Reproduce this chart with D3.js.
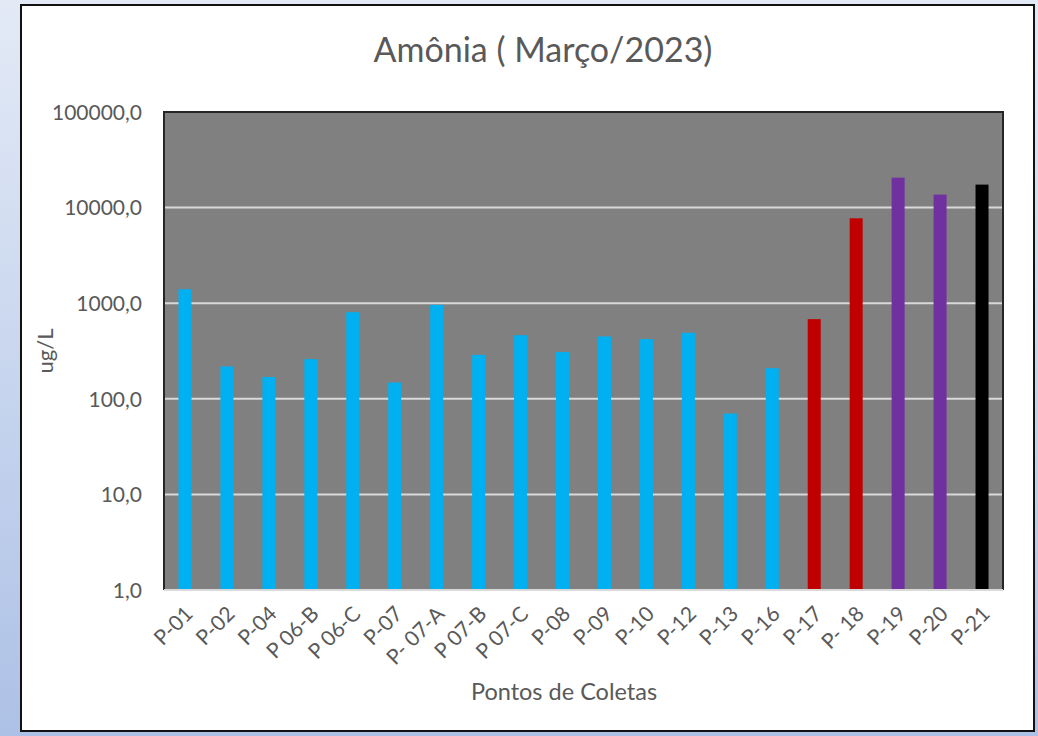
<!DOCTYPE html>
<html>
<head>
<meta charset="utf-8">
<script src="https://cdn.jsdelivr.net/npm/d3@7"></script>
<style>
  html, body { margin: 0; padding: 0; }
  body { width: 1038px; height: 736px; overflow: hidden; }
  text { font-family: Lato, "Open Sans", sans-serif; white-space: pre; }
</style>
</head>
<body>
<svg id="chart" width="1038" height="736"></svg>
<script>
// ---- data ----
const categories = ["P-01","P-02","P-04","P 06-B","P 06-C","P-07","P- 07-A","P 07-B","P 07-C","P-08","P-09","P-10","P-12","P-13","P-16","P-17","P- 18","P-19","P-20","P-21"];
const values = [1400, 218, 169, 260, 805, 148, 960, 288, 463, 308, 449, 421, 490, 70, 209, 681, 7730, 20550, 13670, 17400];
const yTicks = [1, 10, 100, 1000, 10000, 100000];
const titleText = "Amônia ( Março/2023)";
const yAxisTitle = "ug/L";
const xAxisTitle = "Pontos de Coletas";

// ---- style ----
const BLUE = "#00B0F0", RED = "#C00000", PURPLE = "#7030A0", BLACK = "#000000";
const barFill = [BLUE,BLUE,BLUE,BLUE,BLUE,BLUE,BLUE,BLUE,BLUE,BLUE,BLUE,BLUE,BLUE,BLUE,BLUE,RED,RED,PURPLE,PURPLE,BLACK];

const svg = d3.select("#chart");
const defs = svg.append("defs");
const grad = defs.append("linearGradient").attr("id","bg").attr("x1",0).attr("y1",0).attr("x2",0).attr("y2",1);
grad.append("stop").attr("offset","0%").attr("stop-color","#e3eaf6");
grad.append("stop").attr("offset","100%").attr("stop-color","#adc1e6");
svg.append("rect").attr("width",1038).attr("height",736).attr("fill","url(#bg)");

// chart frame
svg.append("rect").attr("x",21).attr("y",5).attr("width",1013).attr("height",726)
  .attr("fill","#ffffff").attr("stroke","#111").attr("stroke-width",2);

const plot = {left:164, right:1003, top:112, bottom:590};

const x = d3.scaleBand().domain(categories).range([plot.left, plot.right])
  .paddingInner(0.69).paddingOuter(0.345);
const y = d3.scaleLog().domain([1, 100000]).range([plot.bottom, plot.top]);

const locale = d3.formatLocale({decimal: ",", thousands: ".", grouping: [3], currency: ["", ""]});
const fmt = locale.format(".1f");

// plot background
svg.append("rect").attr("x",plot.left).attr("y",plot.top)
  .attr("width",plot.right-plot.left).attr("height",plot.bottom-plot.top)
  .attr("fill","#808080");

// gridlines
svg.append("g").selectAll("line").data(yTicks.filter(t => t > 1 && t < 100000)).join("line")
  .attr("x1",plot.left).attr("x2",plot.right)
  .attr("y1",d => y(d)).attr("y2",d => y(d))
  .attr("stroke","#d9d9d9").attr("stroke-width",2);

// bars
svg.append("g").selectAll("rect").data(categories).join("rect")
  .attr("x", d => x(d))
  .attr("width", x.bandwidth())
  .attr("y", (d,i) => y(values[i]))
  .attr("height", (d,i) => y(1) - y(values[i]))
  .attr("fill", (d,i) => barFill[i]);

// plot border
svg.append("path")
  .attr("d", `M${plot.left},${plot.bottom}V${plot.top}H${plot.right}V${plot.bottom}`)
  .attr("fill","none").attr("stroke","#262626").attr("stroke-width",2);
// x axis line
svg.append("line").attr("x1",plot.left).attr("x2",plot.right)
  .attr("y1",plot.bottom).attr("y2",plot.bottom)
  .attr("stroke","#d9d9d9").attr("stroke-width",2);

// y axis labels
const yAxis = d3.axisLeft(y).tickValues(yTicks).tickFormat(fmt).tickSize(0).tickPadding(22);
const gy = svg.append("g").attr("transform",`translate(${plot.left},0)`).call(yAxis);
gy.select(".domain").remove();
gy.selectAll("text").attr("fill","#595959").style("font-size","21px").attr("dy","0.35em");

// x axis labels
const xAxis = d3.axisBottom(x).tickSize(0).tickPadding(0);
const gx = svg.append("g").attr("transform",`translate(0,${plot.bottom})`).call(xAxis);
gx.select(".domain").remove();
gx.selectAll("text")
  .attr("fill","#595959").style("font-size","21px")
  .attr("text-anchor","end")
  .attr("y",0).attr("dy","0.35em")
  .attr("transform","translate(4,20) rotate(-45)");

// title
svg.append("text").attr("x",543).attr("y",62).attr("text-anchor","middle")
  .attr("fill","#595959").style("font-size","34px").text(titleText);

// axis titles
svg.append("text").attr("transform",`translate(53,${(plot.top+plot.bottom)/2}) rotate(-90)`)
  .attr("text-anchor","middle").attr("fill","#595959").style("font-size","22px").text(yAxisTitle);
svg.append("text").attr("x",564).attr("y",700).attr("text-anchor","middle")
  .attr("fill","#595959").style("font-size","23.5px").text(xAxisTitle);
</script>
</body>
</html>
